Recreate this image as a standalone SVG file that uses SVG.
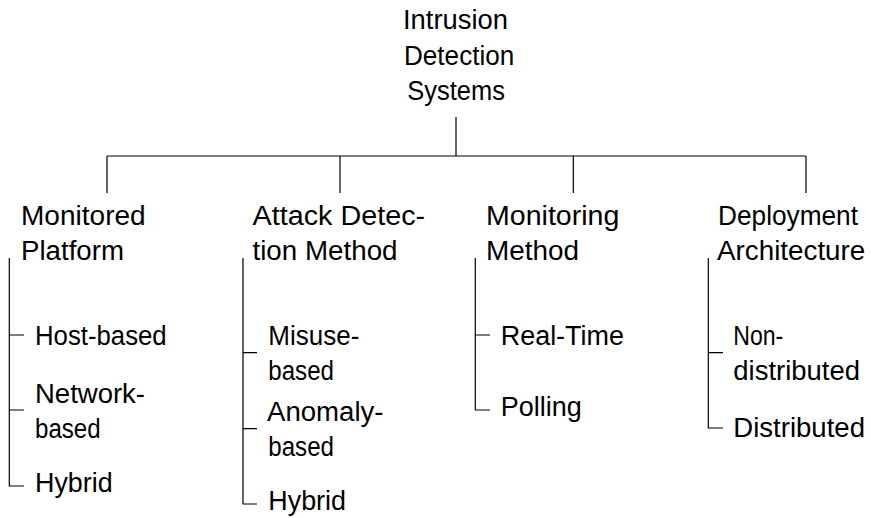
<svg xmlns="http://www.w3.org/2000/svg" width="871" height="518" viewBox="0 0 871 518">
  <style>
    text { font-family: "Liberation Sans", Arial, sans-serif; font-size: 27px; fill: #000; }
    .wire { fill: none; stroke: #000; stroke-width: 1.2; }
  </style>
  <rect width="871" height="518" fill="#fff"/>

  <!-- tree connectors -->
  <g id="connectors" class="wire">
    <path d="M456 117 V156 M107 156 H806 M107 156 V193 M340 156 V193 M573.3 156 V193 M806 156 V193"/>
    <!-- Monitored Platform -->
    <path d="M9.3 258 V486 H24 M9.3 335 H24 M9.3 410 H24"/>
    <!-- Attack Detection Method -->
    <path d="M243 258 V504 H257 M243 352.7 H257 M243 428.7 H257"/>
    <!-- Monitoring Method -->
    <path d="M475.3 258 V410 H490 M475.3 335 H490"/>
    <!-- Deployment Architecture -->
    <path d="M708.3 258 V428 H723 M708.3 352.7 H723"/>
  </g>

  <g id="root">
    <text x="403" y="29" textLength="105" lengthAdjust="spacingAndGlyphs">Intrusion</text>
    <text x="404" y="64.5" textLength="110.3" lengthAdjust="spacingAndGlyphs">Detection</text>
    <text x="407.3" y="100" textLength="97.7" lengthAdjust="spacingAndGlyphs">Systems</text>
  </g>

  <g id="monitored-platform">
    <text x="21" y="224.5" textLength="124.7" lengthAdjust="spacingAndGlyphs">Monitored</text>
    <text x="21" y="260" textLength="103" lengthAdjust="spacingAndGlyphs">Platform</text>
  </g>
  <g id="attack-detection-method">
    <text x="252.5" y="224.5" textLength="172.7" lengthAdjust="spacingAndGlyphs">Attack Detec-</text>
    <text x="252.5" y="260" textLength="145" lengthAdjust="spacingAndGlyphs">tion Method</text>
  </g>
  <g id="monitoring-method">
    <text x="486" y="224.5" textLength="133.3" lengthAdjust="spacingAndGlyphs">Monitoring</text>
    <text x="486" y="260" textLength="93" lengthAdjust="spacingAndGlyphs">Method</text>
  </g>
  <g id="deployment-architecture">
    <text x="718" y="224.5" textLength="140" lengthAdjust="spacingAndGlyphs">Deployment</text>
    <text x="717" y="260" textLength="148.3" lengthAdjust="spacingAndGlyphs">Architecture</text>
  </g>

  <g id="host-based">
    <text x="35" y="345" textLength="131.7" lengthAdjust="spacingAndGlyphs">Host-based</text>
  </g>
  <g id="network-based">
    <text x="35" y="403.3" textLength="110" lengthAdjust="spacingAndGlyphs">Network-</text>
    <text x="35" y="438.3" textLength="65.7" lengthAdjust="spacingAndGlyphs">based</text>
  </g>
  <g id="platform-hybrid">
    <text x="35" y="491.7" textLength="77.7" lengthAdjust="spacingAndGlyphs">Hybrid</text>
  </g>

  <g id="misuse-based">
    <text x="268.3" y="345" textLength="91" lengthAdjust="spacingAndGlyphs">Misuse-</text>
    <text x="268.3" y="380" textLength="65.7" lengthAdjust="spacingAndGlyphs">based</text>
  </g>
  <g id="anomaly-based">
    <text x="267" y="421" textLength="116.5" lengthAdjust="spacingAndGlyphs">Anomaly-</text>
    <text x="268.3" y="456" textLength="65.7" lengthAdjust="spacingAndGlyphs">based</text>
  </g>
  <g id="detection-hybrid">
    <text x="268.3" y="510" textLength="77.7" lengthAdjust="spacingAndGlyphs">Hybrid</text>
  </g>

  <g id="real-time">
    <text x="500.7" y="345" textLength="123.3" lengthAdjust="spacingAndGlyphs">Real-Time</text>
  </g>
  <g id="polling">
    <text x="500.7" y="415.7" textLength="81" lengthAdjust="spacingAndGlyphs">Polling</text>
  </g>

  <g id="non-distributed">
    <text x="733.3" y="345" textLength="50" lengthAdjust="spacingAndGlyphs">Non-</text>
    <text x="733.3" y="380" textLength="126.7" lengthAdjust="spacingAndGlyphs">distributed</text>
  </g>
  <g id="distributed">
    <text x="733.3" y="436.7" textLength="131.7" lengthAdjust="spacingAndGlyphs">Distributed</text>
  </g>
</svg>
